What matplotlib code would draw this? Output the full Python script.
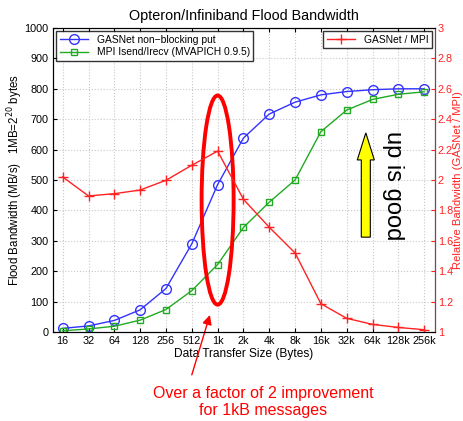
import numpy as np
import matplotlib.pyplot as plt
from matplotlib.patches import Ellipse, FancyArrow

plt.rcParams['font.family'] = ['Liberation Sans', 'DejaVu Sans']

sizes = ['16', '32', '64', '128', '256', '512', '1k', '2k', '4k', '8k',
         '16k', '32k', '64k', '128k', '256k']
gasnet = [12, 20, 38, 73, 143, 290, 485, 638, 717, 756, 780, 791, 797, 800, 800]
mpi = [4, 10, 19, 39, 74, 136, 222, 344, 427, 500, 659, 730, 765, 782, 790]
ratio = [2.02, 1.895, 1.91, 1.934, 1.998, 2.097, 2.19, 1.873, 1.689, 1.52,
         1.186, 1.09, 1.05, 1.03, 1.015]

x = np.arange(len(sizes))

fig = plt.figure(figsize=(4.64, 4.21), dpi=100)
ax = fig.add_axes([0.114, 0.2114, 0.8235, 0.7221])
ax2 = ax.twinx()

l1, = ax.plot(x, gasnet, '-o', color='#3333ff', mfc='none', ms=7, lw=1,
              label='GASNet non\u2212blocking put')
l2, = ax.plot(x, mpi, '-s', color='#22aa22', mfc='none', ms=5, lw=1,
              label='MPI Isend/Irecv (MVAPICH 0.9.5)')
l3, = ax2.plot(x, ratio, '-+', color='#ff2222', ms=7, lw=1,
               label='GASNet / MPI')

ax.set_xlim(-0.38, len(sizes) - 1 + 0.42)
ax.set_ylim(0, 1000)
ax.set_yticks(np.arange(0, 1001, 100))
ax.set_xticks(x)
ax.set_xticklabels(sizes)
ax2.set_ylim(1, 3)
ax2.set_yticks(np.arange(1, 3.01, 0.2))
ax2.set_yticklabels(['1', '1.2', '1.4', '1.6', '1.8', '2', '2.2', '2.4', '2.6', '2.8', '3'])

ax.grid(True, linestyle=':', color='#c8c8c8', lw=0.8)
ax.tick_params(direction='in', labelsize=7.8, top=True, length=3, pad=3)
ax2.tick_params(direction='in', labelsize=7.8, colors='#ff2222', length=3, pad=2)
ax2.spines['right'].set_color('#aa3333')

ax.set_title('Opteron/Infiniband Flood Bandwidth', fontsize=10.4, pad=6)
ax.set_xlabel('Data Transfer Size (Bytes)', fontsize=8.6, labelpad=1)
ax.set_ylabel('Flood Bandwidth (MB/s)   1MB=2$^{20}$ bytes', fontsize=8.3,
              labelpad=0)
ax2.set_ylabel('Relative Bandwidth (GASNet / MPI)', fontsize=8.1,
               color='#ff2222', labelpad=0)

ax.legend(handles=[l1, l2], loc='upper left', fontsize=7.4,
          fancybox=False, edgecolor='black', borderaxespad=0.3,
          handlelength=2.8, borderpad=0.35, labelspacing=0.25)
ax2.legend(handles=[l3], loc='upper right', fontsize=7.4, fancybox=False,
           edgecolor='black', borderaxespad=0.3, handlelength=2.8,
           borderpad=0.35)

# red ellipse around the 1k point
ax.add_patch(Ellipse((6, 434), 1.24, 688, fill=False, edgecolor='red', lw=2.8,
                     zorder=5))

# yellow "up is good" arrow
ax.add_patch(FancyArrow(11.74, 312, 0, 343, width=0.35, head_width=0.66,
                        head_length=89, length_includes_head=True,
                        facecolor='yellow', edgecolor='black', lw=0.8, zorder=5))
ax.text(12.79, 480, 'up is good', rotation=270, fontsize=17, ha='center',
        va='center')

# annotation below the chart
fig.text(0.567, 0.008, 'Over a factor of 2 improvement\nfor 1kB messages',
         color='red', fontsize=11.5, ha='center', va='bottom', linespacing=1.13)
ax.annotate('', xy=(5.70, 56), xytext=(5.0, -141), xycoords='data',
            arrowprops=dict(arrowstyle='-|>', color='red', lw=1,
                            mutation_scale=14, shrinkA=0, shrinkB=0),
            annotation_clip=False)

fig.savefig('out.png', dpi=100)
